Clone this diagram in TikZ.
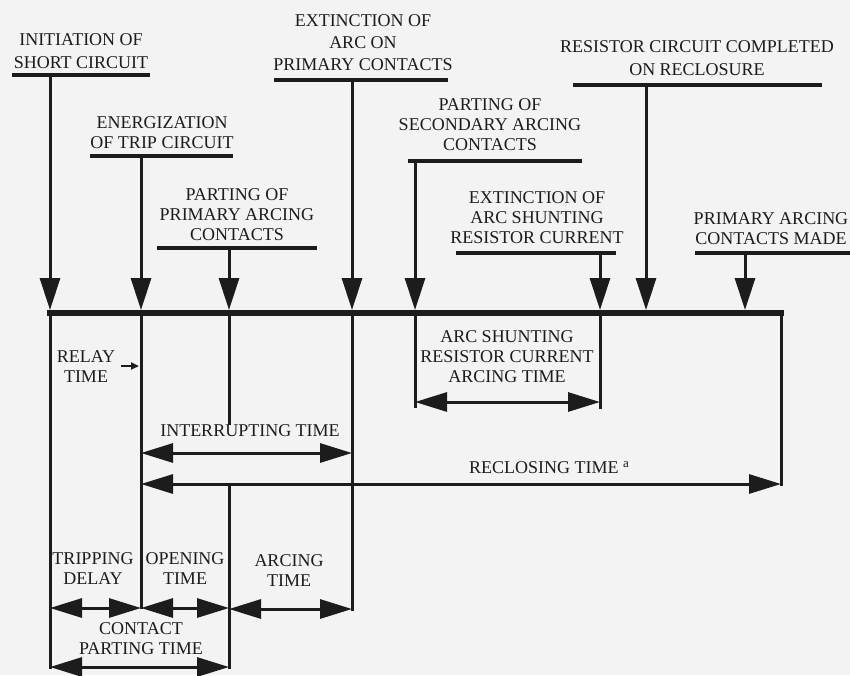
\documentclass[tikz,border=0pt]{standalone}
\usepackage{fontspec}
\setmainfont{Liberation Serif}
\usetikzlibrary{arrows.meta}
\definecolor{ink}{HTML}{1C1C1C}
\definecolor{paper}{HTML}{F3F3F3}
\begin{document}
\begin{tikzpicture}[x=1pt,y=-1pt,
  lbl/.style={font=\fontsize{18}{20}\selectfont, align=center, inner sep=0pt, text=ink, anchor=south},
  wide/.style={font=\fontsize{18}{22.6}\selectfont},
  uline/.style={line width=3.2pt, draw=ink},
  shaft/.style={line width=3pt, draw=ink},
  down/.style={shaft, -{Triangle[length=32pt,width=20pt]}},
  dbl/.style={shaft, {Triangle[length=32pt,width=19pt]}-{Triangle[length=32pt,width=19pt]}},
  small/.style={line width=2pt, draw=ink, -{Triangle[length=8pt,width=7pt]}}
]
\fill[paper] (0,0) rectangle (850,675);
\useasboundingbox (0,0) rectangle (850,675);

% ---------- main time bar ----------
\coordinate (barL) at (47,313);
\coordinate (barR) at (784,313);
\draw[line width=6pt, ink] (barL) -- (barR);

% ---------- upper labels ----------
\node[lbl, wide] (tInit) at (81,68.5) {INITIATION OF\\SHORT CIRCUIT};
\node[lbl] (tEnerg) at (162,149) {ENERGIZATION\\OF TRIP CIRCUIT};
\node[lbl] (tPartP) at (237,241) {PARTING OF\\PRIMARY ARCING\\CONTACTS};
\node[lbl, font=\fontsize{18}{22.2}\selectfont] (tExtP) at (363,71) {EXTINCTION OF\\ARC ON\\PRIMARY CONTACTS};
\node[lbl] (tPartS) at (490,151) {PARTING OF\\SECONDARY ARCING\\CONTACTS};
\node[lbl] (tExtS) at (537,244) {EXTINCTION OF\\ARC SHUNTING\\RESISTOR CURRENT};
\node[lbl, font=\fontsize{18}{23}\selectfont] (tRes) at (697,76) {RESISTOR CIRCUIT COMPLETED\\ON RECLOSURE};
\node[lbl] (tMade) at (771,245) {PRIMARY ARCING\\CONTACTS MADE};

% underlines
\coordinate (uInitL) at (12,75);   \coordinate (uInitR) at (150,75);
\coordinate (uEnergL) at (90,156); \coordinate (uEnergR) at (233,156);
\coordinate (uPartPL) at (157,248);\coordinate (uPartPR) at (317,248);
\coordinate (uExtPL) at (274,80);  \coordinate (uExtPR) at (448,80);
\coordinate (uPartSL) at (408,161);\coordinate (uPartSR) at (582,161);
\coordinate (uExtSL) at (456,253); \coordinate (uExtSR) at (616,253);
\coordinate (uResL) at (573,85);   \coordinate (uResR) at (822,85);
\coordinate (uMadeL) at (695,253); \coordinate (uMadeR) at (850,253);
\foreach \n in {Init,Energ,PartP,ExtP,PartS,ExtS,Res,Made}
  \draw[uline] (u\n L) -- (u\n R);

% arrow starts (on underlines) and hits (on bar)
\coordinate (aInit) at (50,75);   \coordinate (hInit) at (50,310);
\coordinate (aEnerg) at (141,156);\coordinate (hEnerg) at (141,310);
\coordinate (aPartP) at (229,248);\coordinate (hPartP) at (229,310);
\coordinate (aExtP) at (352,80);  \coordinate (hExtP) at (352,310);
\coordinate (aPartS) at (415,161);\coordinate (hPartS) at (415,310);
\coordinate (aExtS) at (600,253); \coordinate (hExtS) at (600,310);
\coordinate (aRes) at (646,85);   \coordinate (hRes) at (646,310);
\coordinate (aMade) at (745,253); \coordinate (hMade) at (745,310);
\foreach \n in {Init,Energ,PartP,ExtP,PartS,ExtS,Res,Made}
  \draw[down] (a\n) -- (h\n);

% ---------- lower vertical extension lines ----------
\coordinate (eInit) at (50,669);
\coordinate (eEnerg) at (141,609);
\coordinate (ePartPa) at (229,425);
\coordinate (ePartPb) at (229,484);
\coordinate (ePartPc) at (229,669);
\coordinate (eExtP) at (352,611);
\coordinate (ePartS) at (415,408);
\coordinate (eExtS) at (600,409);
\coordinate (eRec) at (781,486);
\coordinate (eRecTop) at (781,313);
\draw[shaft] (hInit) -- (eInit);
\draw[shaft] (hEnerg) -- (eEnerg);
\draw[shaft] (hPartP) -- (ePartPa);
\draw[shaft] (ePartPb) -- (ePartPc);
\draw[shaft] (hExtP) -- (eExtP);
\draw[shaft] (hPartS) -- (ePartS);
\draw[shaft] (hExtS) -- (eExtS);
\draw[shaft] (eRecTop) -- (eRec);

% ---------- lower labels ----------
\node[lbl] (tRelay) at (86,383) {RELAY\\TIME};
\node[lbl] (tShunt) at (507,383) {ARC SHUNTING\\RESISTOR CURRENT\\ARCING TIME};
\node[lbl] (tInt) at (250,437) {INTERRUPTING TIME};
\node[lbl] (tRecl) at (549,474) {RECLOSING TIME \raisebox{6pt}{\fontsize{13}{13}\selectfont a}};
\node[lbl] (tTrip) at (93,585) {TRIPPING\\DELAY};
\node[lbl] (tOpen) at (185,585) {OPENING\\TIME};
\node[lbl] (tArc) at (289,587) {ARCING\\TIME};
\node[lbl] (tCont) at (141,655) {CONTACT\\PARTING TIME};

% ---------- time-span arrows ----------
\coordinate (rlA) at (121,366); \coordinate (rlB) at (139,366);
\draw[small] (rlA) -- (rlB);

\coordinate (shA) at (415,402); \coordinate (shB) at (600,402);
\draw[dbl] (shA) -- (shB);

\coordinate (inA) at (141,453); \coordinate (inB) at (352,453);
\draw[dbl] (inA) -- (inB);

\coordinate (reA) at (141,484); \coordinate (reB) at (781,484);
\draw[dbl] (reA) -- (reB);

\coordinate (trA) at (50,608); \coordinate (trB) at (141,608);
\draw[dbl] (trA) -- (trB);

\coordinate (opA) at (141,608); \coordinate (opB) at (229,608);
\draw[dbl] (opA) -- (opB);

\coordinate (arA) at (229,609); \coordinate (arB) at (352,609);
\draw[dbl] (arA) -- (arB);

\coordinate (cpA) at (50,667); \coordinate (cpB) at (229,667);
\draw[dbl] (cpA) -- (cpB);
\end{tikzpicture}
\end{document}
